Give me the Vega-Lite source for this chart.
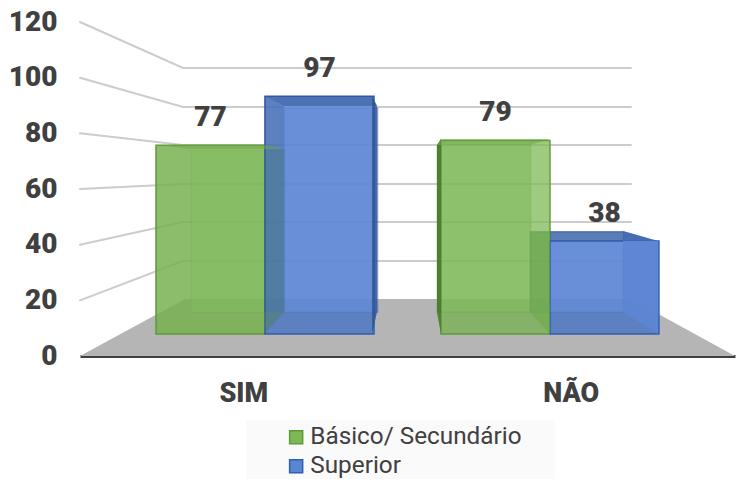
{"$schema":"https://vega.github.io/schema/vega-lite/v6.json","width":655,"height":334,"autosize":"none","padding":{"left":80,"top":22,"right":6,"bottom":127},"background":"white",
"config":{"view":{"stroke":null},"font":"Roboto"},
"datasets":{
"barras":[{"grupo":"SIM","serie":"Básico/ Secundário","valor":77},{"grupo":"SIM","serie":"Superior","valor":97},{"grupo":"NÃO","serie":"Básico/ Secundário","valor":79},{"grupo":"NÃO","serie":"Superior","valor":38}],
"chao":[{"x":0,"y":0,"y2":0},{"x":16.03,"y":20.48,"y2":0},{"x":84.12,"y":20.48,"y2":0},{"x":100,"y":0,"y2":0}],
"parede":[{"nivel":120,"x":0,"y":120},{"nivel":120,"x":15.73,"y":103.49},{"nivel":120,"x":84.12,"y":103.49},{"nivel":100,"x":0,"y":100},{"nivel":100,"x":15.73,"y":89.47},{"nivel":100,"x":84.12,"y":89.47},{"nivel":80,"x":0,"y":80},{"nivel":80,"x":15.73,"y":75.82},{"nivel":80,"x":84.12,"y":75.82},{"nivel":60,"x":0,"y":60},{"nivel":60,"x":15.73,"y":61.8},{"nivel":60,"x":84.12,"y":61.8},{"nivel":40,"x":0,"y":40},{"nivel":40,"x":15.73,"y":48.15},{"nivel":40,"x":84.12,"y":48.15},{"nivel":20,"x":0,"y":20},{"nivel":20,"x":15.73,"y":34.14},{"nivel":20,"x":84.12,"y":34.14}],
"faces":[
{"face":"a1","parte":"verde-lado","x":11.45,"y":75.82,"y2":7.91},{"face":"a1","parte":"verde-lado","x":16.95,"y":74.38,"y2":15.81},
{"face":"a2","parte":"verde-lado","x":28.09,"y":75.82,"y2":7.91},{"face":"a2","parte":"verde-lado","x":31.15,"y":74.38,"y2":15.81},
{"face":"a3","parte":"azul-lado","x":28.09,"y":93.42,"y2":7.91},{"face":"a3","parte":"azul-lado","x":31.15,"y":89.83,"y2":15.81},
{"face":"a4","parte":"azul-escuro","x":44.58,"y":93.42,"y2":7.91},{"face":"a4","parte":"azul-escuro","x":45.34,"y":89.83,"y2":15.81},
{"face":"a5","parte":"verde-escuro","x":54.5,"y":75.82,"y2":15.81},{"face":"a5","parte":"verde-escuro","x":55.11,"y":77.97,"y2":7.91},
{"face":"a6","parte":"verde-claro","x":68.7,"y":75.82,"y2":15.81},{"face":"a6","parte":"verde-claro","x":71.76,"y":77.97,"y2":7.91},
{"face":"a7","parte":"azul-face","x":82.9,"y":44.92,"y2":15.81},{"face":"a7","parte":"azul-face","x":88.24,"y":41.32,"y2":7.91},
{"face":"a8","parte":"verde-topo","x":68.7,"y":44.92,"y2":15.81},{"face":"a8","parte":"verde-topo","x":71.76,"y":44.92,"y2":7.91},
{"face":"t1","parte":"verde-topo","x":11.45,"y":75.82,"y2":75.82},{"face":"t1","parte":"verde-topo","x":16.95,"y":75.82,"y2":74.38},{"face":"t1","parte":"verde-topo","x":28.09,"y":75.82,"y2":74.38},{"face":"t1","parte":"verde-topo","x":31.15,"y":74.38,"y2":74.38},
{"face":"t2","parte":"azul-topo","x":28.09,"y":93.42,"y2":93.42},{"face":"t2","parte":"azul-topo","x":31.15,"y":93.42,"y2":89.83},{"face":"t2","parte":"azul-topo","x":44.58,"y":93.42,"y2":89.83},{"face":"t2","parte":"azul-topo","x":45.34,"y":89.83,"y2":89.83},
{"face":"t3","parte":"verde-topo","x":54.5,"y":75.82,"y2":75.82},{"face":"t3","parte":"verde-topo","x":55.11,"y":77.97,"y2":75.82},{"face":"t3","parte":"verde-topo","x":68.7,"y":77.97,"y2":75.82},{"face":"t3","parte":"verde-topo","x":71.76,"y":77.97,"y2":77.97},
{"face":"t4","parte":"azul-topo","x":71.76,"y":44.92,"y2":41.32},{"face":"t4","parte":"azul-topo","x":82.9,"y":44.92,"y2":41.32},{"face":"t4","parte":"azul-topo","x":88.24,"y":41.32,"y2":41.32},
{"face":"b1","parte":"verde-lado","x":11.45,"y":7.91,"y2":7.91},{"face":"b1","parte":"verde-lado","x":16.95,"y":15.81,"y2":7.91},{"face":"b1","parte":"verde-lado","x":28.09,"y":15.81,"y2":7.91},{"face":"b1","parte":"verde-lado","x":31.15,"y":15.81,"y2":15.81},
{"face":"b2","parte":"azul-base","x":28.09,"y":7.91,"y2":7.91},{"face":"b2","parte":"azul-base","x":31.15,"y":15.81,"y2":7.91},{"face":"b2","parte":"azul-base","x":44.58,"y":15.81,"y2":7.91},{"face":"b2","parte":"azul-base","x":45.34,"y":15.81,"y2":15.81},
{"face":"b3","parte":"verde-lado","x":54.5,"y":15.81,"y2":15.81},{"face":"b3","parte":"verde-lado","x":55.11,"y":15.81,"y2":7.91},{"face":"b3","parte":"verde-lado","x":68.7,"y":15.81,"y2":7.91},{"face":"b3","parte":"verde-lado","x":71.76,"y":7.91,"y2":7.91},
{"face":"b4","parte":"azul-base","x":71.76,"y":15.81,"y2":7.91},{"face":"b4","parte":"azul-base","x":82.9,"y":15.81,"y2":7.91},{"face":"b4","parte":"azul-base","x":88.24,"y":7.91,"y2":7.91}
],
"fundoLegenda":[{"x":25.34,"x2":72.52,"y":-23,"y2":-44.2}]
},
"layer":[
{"data":{"name":"barras"},"mark":{"type":"bar","opacity":0},
 "encoding":{"x":{"field":"grupo","type":"nominal","sort":["SIM","NÃO"],"scale":{"paddingInner":0,"paddingOuter":0},"title":null,"axis":{"domainColor":"#404040","domainWidth":3,"ticks":false,"labelAngle":0,"labelFont":"Roboto","labelFontSize":27,"labelFontWeight":900,"labelColor":"#404040","labelPadding":24}},
 "y":{"field":"valor","type":"quantitative","scale":{"domain":[0,120],"nice":false},"title":null,"axis":{"values":[0,20,40,60,80,100,120],"grid":false,"domain":false,"ticks":false,"labelFont":"Roboto","labelFontSize":28,"labelFontWeight":900,"labelColor":"#404040","labelPadding":23}}}},
{"layer":[
 {"data":{"name":"chao"},"mark":{"type":"area","color":"#b5b5b5","interpolate":"linear"},"encoding":{"x":{"field":"x","type":"quantitative","scale":{"domain":[0,100],"nice":false,"zero":false},"axis":null},"y":{"field":"y","type":"quantitative","scale":{"domain":[0,120],"nice":false},"axis":null},"y2":{"field":"y2"}}},
 {"data":{"name":"parede"},"mark":{"type":"line","color":"#cccccc","strokeWidth":2,"strokeCap":"round"},"encoding":{"x":{"field":"x","type":"quantitative"},"y":{"field":"y","type":"quantitative"},"detail":{"field":"nivel"}}},
 {"data":{"name":"fundoLegenda"},"mark":{"type":"rect","color":"#fafafa"},"encoding":{"x":{"field":"x","type":"quantitative"},"x2":{"field":"x2"},"y":{"field":"y","type":"quantitative"},"y2":{"field":"y2"}}}
]},
{"data":{"name":"barras"},"mark":{"type":"bar","opacity":0.6,"strokeWidth":1.5},
 "encoding":{"x":{"field":"grupo","type":"nominal","sort":["SIM","NÃO"],"scale":{"paddingInner":0.244,"paddingOuter":0.4535},"axis":null},"xOffset":{"field":"serie","type":"nominal"},
 "y":{"field":"valor","type":"quantitative","stack":null,"scale":{"domain":[-20.95,138.1],"nice":false,"zero":false},"axis":null},"y2":{"datum":0},
 "fill":{"field":"serie","type":"nominal","scale":{"domain":["Básico/ Secundário","Superior"],"range":["#7DB857","#5B86D4"]},"legend":null},
 "stroke":{"field":"serie","type":"nominal","scale":{"domain":["Básico/ Secundário","Superior"],"range":["#5f9a38","#2f5fb0"]},"legend":null}}},
{"data":{"name":"barras"},"layer":[
 {"mark":{"type":"bar","strokeWidth":1.5},
  "encoding":{"x":{"field":"grupo","type":"nominal","sort":["SIM","NÃO"],"scale":{"paddingInner":0.235,"paddingOuter":0.267},"axis":null},"xOffset":{"field":"serie","type":"nominal"},
  "y":{"field":"valor","type":"quantitative","stack":null,"scale":{"domain":[-8.98,127.35],"nice":false,"zero":false},"axis":null},"y2":{"datum":0},
  "fill":{"field":"serie","type":"nominal","title":null,"scale":{"domain":["Básico/ Secundário","Superior"],"range":["#7DB857","#5B86D4"]},
   "legend":{"orient":"none","legendX":204,"legendY":403,"title":null,"symbolType":"square","symbolSize":170,"symbolStrokeWidth":1.5,"symbolOpacity":1,"labelFont":"Roboto","labelFontSize":24.3,"labelColor":"#404040","labelOffset":2,"rowPadding":4,"labelLimit":300}},
  "stroke":{"field":"serie","type":"nominal","scale":{"domain":["Básico/ Secundário","Superior"],"range":["#5f9a38","#2f5fb0"]},"legend":null},
  "fillOpacity":{"condition":{"test":"datum.grupo==='NÃO' && datum.serie==='Básico/ Secundário'","value":0.68},"value":0.8}}},
 {"mark":{"type":"text","font":"Roboto","fontSize":28,"fontWeight":900,"color":"#404040","dy":-27,"baseline":"middle"},
  "encoding":{"x":{"field":"grupo","type":"nominal","sort":["SIM","NÃO"]},"xOffset":{"field":"serie","type":"nominal"},"y":{"field":"valor","type":"quantitative","stack":null},"text":{"field":"valor","type":"quantitative"}}}
]},
{"data":{"name":"faces"},"mark":{"type":"area","interpolate":"linear"},
 "encoding":{"x":{"field":"x","type":"quantitative","scale":{"domain":[0,100],"nice":false,"zero":false},"axis":null},"y":{"field":"y","type":"quantitative","stack":null,"scale":{"domain":[0,120],"nice":false},"axis":null},"y2":{"field":"y2"},"detail":{"field":"face"},
 "fill":{"field":"parte","type":"nominal","legend":null,"scale":{"domain":["verde-lado","verde-escuro","verde-claro","verde-topo","azul-lado","azul-escuro","azul-topo","azul-base","azul-face"],"range":["rgba(95,154,56,0.2)","rgba(74,122,44,0.95)","rgba(127,191,85,0.2)","rgba(106,165,67,0.6)","rgba(47,85,151,0.4)","rgba(47,85,151,0.8)","rgba(47,85,151,0.6)","rgba(47,85,151,0.25)","rgba(92,132,210,0.92)"]}}}}
],
"resolve":{"scale":{"x":"independent","y":"independent","xOffset":"independent","fill":"independent","stroke":"independent","fillOpacity":"independent"}}
}
